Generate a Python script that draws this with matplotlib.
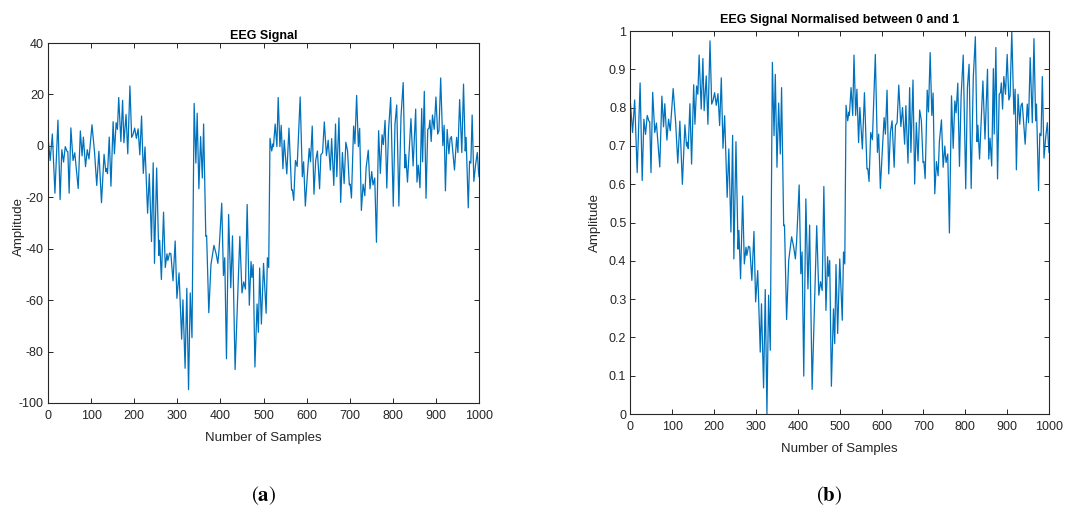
import matplotlib
matplotlib.use("Agg")
import matplotlib.pyplot as plt
import numpy as np

# sample index of each plotted point and EEG amplitude
samples = [0, 5, 10, 16, 23, 28, 32, 36, 40, 44, 46, 49, 53, 58, 62, 70, 75, 79, 82, 87,
           91, 95, 102, 108, 113, 118, 124, 130, 134, 136, 138, 142, 146, 151, 154, 158, 161, 164,
           169, 173, 176, 181, 185, 190, 194, 197, 201, 205, 209, 213, 217, 221, 225, 231, 235,
           240, 244, 247, 252, 257, 259, 263, 268, 272, 276, 278, 282, 285, 290, 295, 299, 304,
           310, 313, 318, 322, 326, 330, 334,
           339, 343, 346, 350, 354, 358, 361, 366, 368, 373, 378, 385, 390, 394, 397, 403, 407,
           410, 414, 419, 424, 428, 434, 445, 450, 454, 458, 462, 467, 471, 473, 476, 480, 485,
           488, 491, 495, 500,
           506, 509, 512, 515, 519, 522, 523, 527, 531, 534, 538, 541, 545, 548, 554, 559, 565,
           567, 570, 574, 578, 585, 590, 593, 597, 601, 606, 609, 613, 617, 621, 625, 630, 633,
           637, 641, 646, 650, 655, 658, 663,
           667, 670, 675, 679, 683, 687, 691, 695, 699, 701, 704, 709, 712, 716, 720, 723, 727,
           731, 735, 738, 743, 747, 751, 754, 758, 762, 767, 771, 775, 778, 782, 786, 790, 795,
           801, 805, 809, 814, 819, 824, 828, 830, 834,
           842, 847, 853, 856, 859, 863, 867, 869, 873, 877, 881, 884, 886, 889, 892, 896, 900,
           904, 907, 911, 916, 919, 922, 926, 930, 933, 936, 943, 948, 951, 955, 960, 964, 968,
           970, 975, 978, 981, 984, 988, 992, 996, 999, 1000]

amplitude = [3.4, -5.7, 4.6, -18.4, 10.0, -20.9, -1.5, -6.3, -0.3, -2.1, -2.3, -18.4, 7.0, -5.7,
             -2.7, -16.6, 5.8, -3.9, 3.4, -8.1, -1.5, -5.1, 8.2, -2.7, -15.4, -2.1, -22.1, -3.3,
             -10.0, -8.8, -10.8, 3.4, -15.7, 9.4, -3.1, 9.0, 6.4, 18.8,
             1.7, 17.7, 1.2, 12.2, -3.1, 23.3, 3.3, 4.3, 6.9, 2.9, 6.6, -3.5, 11.6, -10.7, -0.4,
             -26.2, -10.9, -37.2, -6.6, -45.7, -8.6, -42.6, -36.7, -52.0, -25.8, -47.3, -42.0,
             -44.6, -41.7, -42.0, -52.5, -37.0, -59.3, -49.4, -75.2, -59.9, -86.5, -55.4, -94.8,
             -57.2, -74.6,
             16.5, -6.7, 12.7, -16.7, 3.6, -12.5, 8.5, -35.2, -35.0, -64.9, -46.2, -38.7, -42.0,
             -45.7, -39.9, -22.3, -50.4, -43.5, -82.8, -26.7, -55.2, -35.0, -87.0, -35.2, -57.2,
             -52.9, -55.7, -22.8, -62.0, -45.0, -51.2, -46.2, -86.0, -61.5, -72.5, -47.5, -69.3,
             -45.7,
             -65.1, -43.5, -47.3, 2.9, -2.0, 0.8, -0.3, 8.5, -0.3, 18.8, -0.3, 8.0, -8.9, 2.2,
             -10.9, 6.9, -17.2, -17.1, -21.2, -5.7, -8.0, 19.0, -12.0, -6.2, -23.4, -13.1, -1.0,
             -6.2, 7.7, -18.8, -5.7, -2.0, -16.7, -3.5, -2.6, 9.3, -3.8, 2.2, -9.4, 2.8, -15.4,
             8.5, -12.0, 10.9, -22.0, -2.6, -14.7, 1.4, -2.0, -15.2, -14.9, -20.3, 7.7, 0.8, 19.6,
             -0.3, 6.8, -25.1, -14.9, -19.4, -8.6, -1.7, -16.7, -10.0, -15.2, -12.5, -37.5, 5.9,
             -10.7, 4.3, 0.5, 9.9, -16.4, 5.9, 18.8, -23.5, 8.5, 15.9, -23.4, 11.6, 24.6, -8.6,
             -3.4, -14.1,
             10.6, -7.8, 14.3, -14.1, -7.5, -16.3, 14.5, -6.2, 21.2, -20.4, 6.4, 6.9, 10.0, 1.7,
             12.0, 6.4, 19.0, 4.6, 5.9, 26.4, 0.1, 8.0, -17.5, 6.4, -3.1, 2.8, 3.6, -9.4, 3.3,
             -2.6, 18.0, -2.6, 24.0, -2.0, 3.3, -24.1, -6.0, -6.7, 12.0, -13.8, -7.3, -2.6, -10.4,
             -12.0]

x = np.array(samples)
eeg = np.array(amplitude)
eeg_norm = (eeg - eeg.min()) / (eeg.max() - eeg.min())

plt.rcParams["font.family"] = ["Liberation Sans", "DejaVu Sans"]
plt.rcParams["mathtext.fontset"] = "stix"
plt.rcParams["axes.unicode_minus"] = False
line_col = "#0072BD"
dark = "#262626"

fig = plt.figure(figsize=(10.65, 5.15), dpi=100)
ax1 = fig.add_axes([0.0451, 0.2175, 0.4047, 0.699])
ax2 = fig.add_axes([0.592, 0.196, 0.393, 0.7437])


def style(ax):
    ax.tick_params(direction="in", top=True, right=True, length=3.5, width=0.7,
                   labelsize=9, colors=dark)
    ax.tick_params(axis="x", pad=5)
    ax.tick_params(axis="y", pad=3)
    for sp in ax.spines.values():
        sp.set_linewidth(0.8)
        sp.set_color(dark)
    ax.set_xlim(0, 1000)
    ax.set_xticks(range(0, 1001, 100))
    ax.set_xlabel("Number of Samples", fontsize=9.5, color=dark, labelpad=7)
    ax.set_ylabel("Amplitude", fontsize=9.5, color=dark)


ax1.plot(x, eeg, color=line_col, linewidth=0.9)
style(ax1)
ax1.set_ylim(-100, 40)
ax1.set_yticks(range(-100, 41, 20))
ax1.yaxis.set_label_coords(-0.053, 0.49)
ax1.set_title("EEG Signal", fontsize=9, fontweight="bold", pad=3)

ax2.plot(x, eeg_norm, color=line_col, linewidth=0.9)
style(ax2)
ax2.set_ylim(0, 1)
ax2.set_yticks(np.arange(0, 1.01, 0.1))
ax2.set_yticklabels(["0", "0.1", "0.2", "0.3", "0.4", "0.5", "0.6", "0.7", "0.8", "0.9", "1"])
ax2.yaxis.set_label_coords(-0.071, 0.5)
ax2.set_title("EEG Signal Normalised between 0 and 1", fontsize=9, fontweight="bold", pad=6)

fig.text(264 / 1065, 1 - 496 / 515, r"$(\mathbf{a})$", ha="center", va="center", fontsize=15)
fig.text(829 / 1065, 1 - 496 / 515, r"$(\mathbf{b})$", ha="center", va="center", fontsize=15)

plt.savefig("out.png", dpi=100)
